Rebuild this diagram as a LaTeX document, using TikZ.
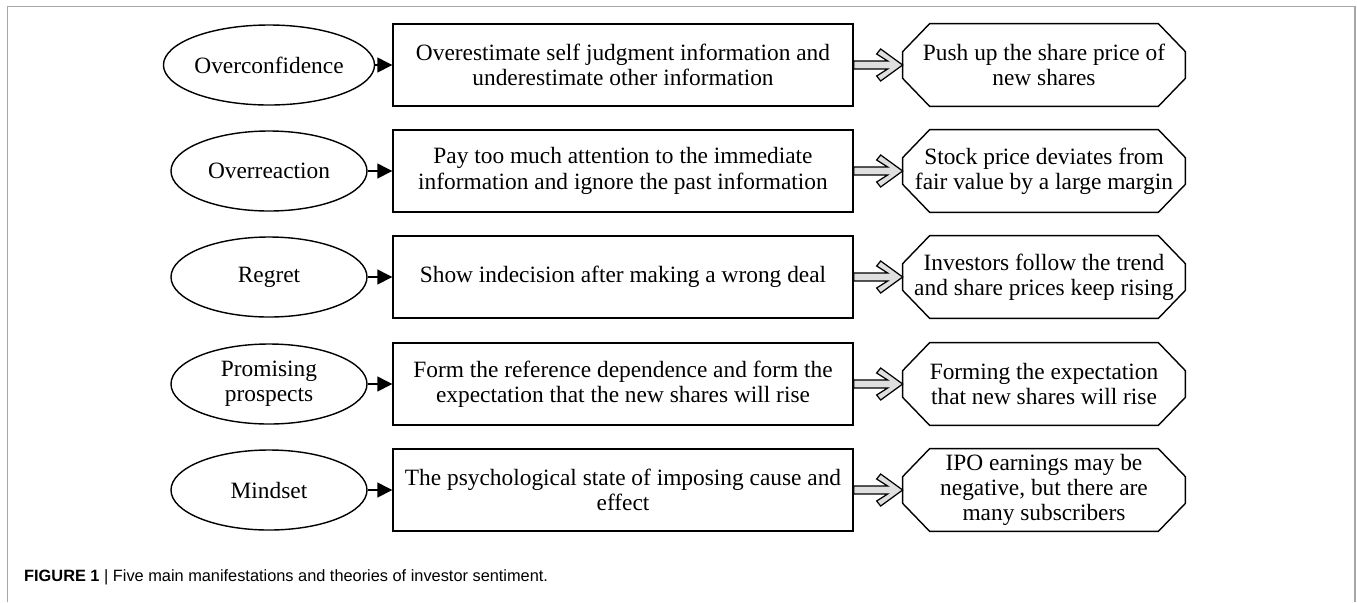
\documentclass[tikz,border=0pt]{standalone}
\usepackage{fontspec}
\setmainfont{Liberation Serif}
\setsansfont{Liberation Sans}
\usetikzlibrary{shapes.geometric, arrows.meta, calc}

\tikzset{
  feel/.style={ellipse, draw, line width=0.8pt, minimum width=39.2mm, minimum height=16mm, inner sep=0pt, align=center},
  effect/.style={rectangle, draw, line width=0.8pt, minimum width=92mm, minimum height=16.4mm, inner sep=0pt, align=center},
  result/.style={rectangle, minimum width=56.4mm, minimum height=16.4mm, inner sep=0pt, align=center},
  dblarr/.style={draw, line width=0.7pt, fill=gray!25, line join=miter},
}

% fat gray arrow with an open chevron head, from box #1 to octagon #2
\newcommand{\dblarrow}[2]{%
  \draw[dblarr] ($(#1.east)+(0,-4)$) -- ($(#2.west)+(-15,-4)$) -- ($(#2.west)+(-26,-11)$)
    -- ($(#2.west)+(-22,-16)$) -- (#2.west) -- ($(#2.west)+(-22,16)$)
    -- ($(#2.west)+(-26,11)$) -- ($(#2.west)+(-15,4)$) -- ($(#1.east)+(0,4)$) -- cycle;}

\begin{document}
\begin{tikzpicture}[x=0.2mm, y=-0.2mm, font=\fontsize{13.3}{14.4}\selectfont]
    \useasboundingbox (0,0) rectangle (1357,602);
    \draw [gray!70, line width=0.9pt] (7.5,602) -- (7.5,6.5) -- (1355,6.5) -- (1355,602);

    \node [feel] (f1) at (269,65) {Overconfidence};
    \node [feel] (f2) at (269,171) {Overreaction};
    \node [feel] (f3) at (269,277) {Regret};
    \node [feel] (f4) at (269,384) {Promising\\prospects};
    \node [feel] (f5) at (269,490) {Mindset};

    \node [effect] (e1) at (623,65) {Overestimate self judgment information and\\underestimate other information};
    \node [effect] (e2) at (623,171) {Pay too much attention to the immediate\\information and ignore the past information};
    \node [effect] (e3) at (623,277) {Show indecision after making a wrong deal};
    \node [effect] (e4) at (623,384) {Form the reference dependence and form the\\expectation that the new shares will rise};
    \node [effect] (e5) at (623,490) {The psychological state of imposing cause and\\effect};

    \node [result] (r1) at (1044,65) {Push up the share price of\\new shares};
    \node [result] (r2) at (1044,171) {Stock price deviates from\\fair value by a large margin};
    \node [result] (r3) at (1044,277) {Investors follow the trend\\and share prices keep rising};
    \node [result] (r4) at (1044,384) {Forming the expectation\\that new shares will rise};
    \node [result] (r5) at (1044,490) {IPO earnings may be\\negative, but there are\\many subscribers};

    \foreach \n in {1,...,5} {
      \draw [line width=0.8pt] ($(r\n.north west)+(27,0)$) -- ($(r\n.north east)+(-27,0)$)
        -- ($(r\n.north east)+(0,28)$) -- ($(r\n.south east)+(0,-28)$)
        -- ($(r\n.south east)+(-27,0)$) -- ($(r\n.south west)+(27,0)$)
        -- ($(r\n.south west)+(0,-28)$) -- ($(r\n.north west)+(0,28)$) -- cycle;
      \draw [->, >={Triangle[length=8.5pt, width=8.5pt]}, line width=0.8pt] (f\n) -- (e\n);
      \dblarrow{e\n}{r\n}
    }

    \node [anchor=west, font=\sffamily\fontsize{9.3}{11}\selectfont] (cap) at (18,577)
      {\textbf{FIGURE 1} | Five main manifestations and theories of investor sentiment.};
\end{tikzpicture}
\end{document}
